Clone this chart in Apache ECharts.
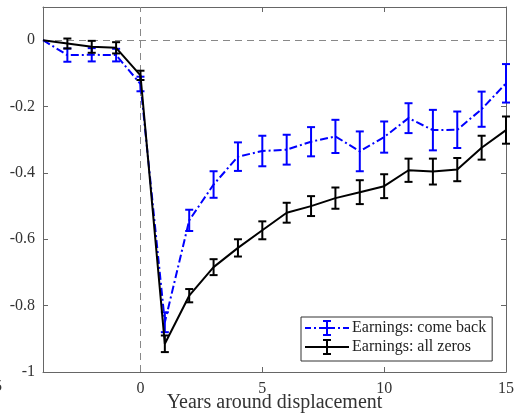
<!DOCTYPE html>
<html>
<head>
<meta charset="utf-8">
<title>Earnings around displacement</title>
<script src="https://cdn.jsdelivr.net/npm/echarts@6/dist/echarts.min.js"></script>
<style>
  html, body { margin: 0; width: 100%; height: 100%; background: #fff; }
  #chart { width: 516px; height: 419px; }
</style>
</head>
<body>
<div id="chart"></div>
<script>
// years relative to displacement
const years = [-4, -3, -2, -1, 0, 1, 2, 3, 4, 5, 6, 7, 8, 9, 10, 11, 12, 13, 14, 15];

// earnings: come back (blue, dash-dot)
const comeBack    = [0, -0.045, -0.044, -0.045, -0.132, -0.85, -0.543, -0.435, -0.351, -0.334, -0.33, -0.306, -0.29, -0.335, -0.292, -0.235, -0.271, -0.27, -0.208, -0.13];
const comeBackErr = [null, 0.02, 0.02, 0.019, 0.022, 0.03, 0.032, 0.04, 0.043, 0.046, 0.045, 0.044, 0.05, 0.06, 0.047, 0.045, 0.061, 0.055, 0.053, 0.058];

// earnings: all zeros (black, solid)
const allZeros    = [0, -0.01, -0.02, -0.023, -0.106, -0.915, -0.77, -0.684, -0.626, -0.573, -0.52, -0.5, -0.476, -0.458, -0.44, -0.392, -0.396, -0.39, -0.324, -0.271];
const allZerosErr = [null, 0.015, 0.018, 0.017, 0.014, 0.025, 0.02, 0.024, 0.026, 0.027, 0.03, 0.03, 0.032, 0.036, 0.036, 0.035, 0.039, 0.035, 0.036, 0.041];

const xTicks = [0, 5, 10, 15];
const yTicks = [-1, -0.8, -0.6, -0.4, -0.2, 0];

const seriesNames = ['Earnings: come back', 'Earnings: all zeros'];

const FONT = 'Liberation Serif';
const chart = echarts.init(document.getElementById('chart'), null, { renderer: 'canvas' });

function points(vals) {
  return years.map((x, i) => [x, vals[i]]);
}
function bars(vals, errs) {
  const out = [];
  years.forEach((x, i) => {
    if (errs[i] != null) out.push([x, vals[i] - errs[i], vals[i] + errs[i]]);
  });
  return out;
}
function errorBar(color) {
  return function (params, api) {
    const x = api.value(0);
    const lo = api.coord([x, api.value(1)]);
    const hi = api.coord([x, api.value(2)]);
    const h = 4;
    const style = { stroke: color, lineWidth: 2, fill: null };
    return {
      type: 'group',
      children: [
        { type: 'line', shape: { x1: lo[0], y1: lo[1], x2: hi[0], y2: hi[1] }, style },
        { type: 'line', shape: { x1: lo[0] - h, y1: lo[1], x2: lo[0] + h, y2: lo[1] }, style },
        { type: 'line', shape: { x1: hi[0] - h, y1: hi[1], x2: hi[0] + h, y2: hi[1] }, style }
      ]
    };
  };
}

// legend samples: line + error bar glyph, drawn as filled paths (44 x 16 box)
const beam = 'M18,0H26V2H23V14H26V16H18V14H21V2H18Z';
const blueIcon = 'path://M0,7H6V9H0Z M9,7H11V9H9Z M14,7H30V9H14Z M33,7H35V9H33Z M38,7H44V9H38Z ' + beam;
const blackIcon = 'path://M0,7H44V9H0Z ' + beam;

const axisGray = '#666';
const labelGray = '#333';

const option = {
  animation: false,
  grid: { left: 43, right: 10, top: 7, bottom: 47, outerBoundsMode: 'none' },
  legend: {
    orient: 'vertical',
    left: 301,
    top: 317,
    padding: [3, 6, 6, 4],
    itemWidth: 44,
    itemHeight: 16,
    itemGap: 3,
    borderColor: '#333',
    borderWidth: 1,
    backgroundColor: '#fff',
    itemStyle: { borderWidth: 0 },
    textStyle: { fontFamily: FONT, fontSize: 16, color: '#222', padding: [0, 0, 0, -2] },
    data: [
      { name: seriesNames[0], icon: blueIcon },
      { name: seriesNames[1], icon: blackIcon }
    ]
  },
  xAxis: [
    {
      type: 'value', min: -4, max: 15,
      name: 'Years around displacement', nameLocation: 'middle', nameGap: 21, nameMoveOverlap: false,
      nameTextStyle: { fontFamily: FONT, fontSize: 20, color: labelGray },
      splitLine: { show: false },
      axisLine: { onZero: false, lineStyle: { color: axisGray, width: 1 } },
      axisTick: { inside: true, length: 5, customValues: xTicks, lineStyle: { color: axisGray } },
      axisLabel: { customValues: xTicks, margin: 9, fontFamily: FONT, fontSize: 16, color: labelGray }
    },
    {
      type: 'value', min: -4, max: 15, position: 'top',
      splitLine: { show: false },
      axisLine: { onZero: false, lineStyle: { color: axisGray, width: 1 } },
      axisTick: { inside: true, length: 5, customValues: xTicks, lineStyle: { color: axisGray } },
      axisLabel: { show: false }
    }
  ],
  yAxis: [
    {
      type: 'value', min: -1, max: 0.1,
      splitLine: { show: false },
      axisLine: { show: true, onZero: false, lineStyle: { color: axisGray, width: 1 } },
      axisTick: { show: true, inside: true, length: 5, customValues: yTicks, lineStyle: { color: axisGray } },
      axisLabel: { customValues: yTicks, margin: 8, fontFamily: FONT, fontSize: 16, color: labelGray }
    },
    {
      type: 'value', min: -1, max: 0.1, position: 'right',
      splitLine: { show: false },
      axisLine: { show: true, onZero: false, lineStyle: { color: axisGray, width: 1 } },
      axisTick: { show: true, inside: true, length: 5, customValues: yTicks, lineStyle: { color: axisGray } },
      axisLabel: { show: false }
    }
  ],
  graphic: [
    { type: 'text', left: -6, top: 379, style: { text: '5', font: '16px "' + FONT + '"', fill: labelGray } }
  ],
  series: [
    {
      name: seriesNames[0],
      type: 'line',
      data: points(comeBack),
      symbol: 'none',
      color: '#0000ff',
      lineStyle: { color: '#0000ff', width: 2, type: [8, 3, 2, 3] },
      z: 2
    },
    {
      name: 'come back bars',
      type: 'custom',
      data: bars(comeBack, comeBackErr),
      encode: { x: 0, y: [1, 2] },
      renderItem: errorBar('#0000ff'),
      z: 2
    },
    {
      name: seriesNames[1],
      type: 'line',
      data: points(allZeros),
      symbol: 'none',
      color: '#000',
      lineStyle: { color: '#000', width: 2 },
      z: 3,
      markLine: {
        silent: true,
        symbol: 'none',
        label: { show: false },
        lineStyle: { color: '#888', width: 1, type: [7, 5] },
        data: [{ yAxis: 0 }, { xAxis: 0 }],
        z: 1
      }
    },
    {
      name: 'all zeros bars',
      type: 'custom',
      data: bars(allZeros, allZerosErr),
      encode: { x: 0, y: [1, 2] },
      renderItem: errorBar('#000'),
      z: 3
    }
  ]
};

chart.setOption(option);
</script>
</body>
</html>
